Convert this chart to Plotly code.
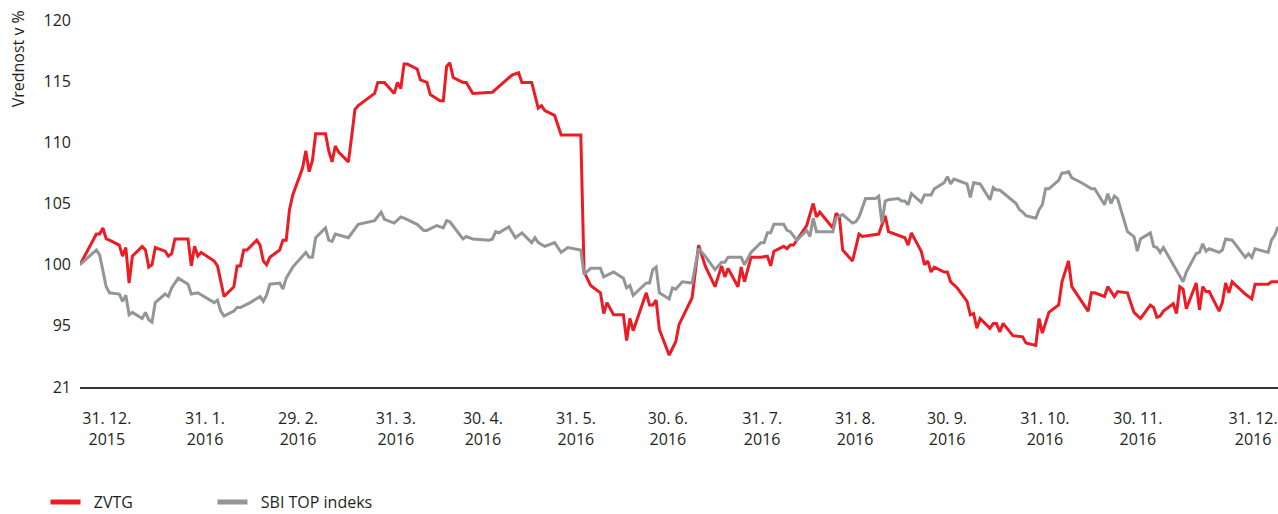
import pandas as pd
import plotly.graph_objects as go

START = pd.Timestamp("2015-12-31")

# ZVTG: days since 31. 12. 2015 and value (index, 31. 12. 2015 = 100)
zvtg_days = [0, 5, 6, 7, 8, 9, 12, 13, 14, 15, 16, 19, 20, 21, 22, 23, 26, 27, 28, 29,
             33, 34, 35, 36, 37, 41, 42, 44, 47, 48, 49, 50, 51, 54, 55, 56, 57, 58, 61, 62,
             63, 64, 65, 68, 69, 70, 71, 72, 75, 76, 77, 78, 79, 82, 83, 84, 85, 90, 91, 93,
             96, 97, 98, 99, 100, 103, 104, 106, 107, 110, 111, 112, 113, 114, 117, 118, 120, 126, 132, 134,
             135, 138, 140, 141, 142, 145, 147, 153, 154, 156, 159, 160, 161, 163, 166, 167, 168, 169, 173, 174,
             175, 176, 177, 180, 182, 183, 187, 189, 191, 194, 196, 197, 198, 201, 202, 203, 205, 208, 210, 211,
             212, 215, 216, 217, 218, 222, 224, 225, 226, 230, 231, 232, 233, 236, 238, 239, 244, 246, 247, 250,
             252, 253, 254, 257, 258, 259, 260, 261, 264, 265, 266, 268, 271, 272, 273, 274, 275, 278, 279, 280,
             281, 282, 285, 288, 289, 292, 293, 294, 296, 299, 300, 302, 303, 308, 309, 310, 313, 314, 316, 317,
             320, 322, 324, 327, 328, 329, 330, 331, 334, 335, 336, 337, 338, 341, 342, 343, 344, 345, 348, 349,
             350, 351, 352, 356, 358, 359, 363, 364, 366]
zvtg_values = [100.0, 102.5, 102.5, 103.0, 102.1, 102.0, 101.6, 100.7, 101.4, 98.5, 100.7, 101.5, 101.2, 99.8, 100.0, 101.4, 101.1, 100.7, 100.9, 102.1,
               102.1, 99.9, 101.5, 100.7, 101.0, 100.3, 99.9, 97.4, 98.2, 99.9, 99.9, 101.2, 101.2, 102.0, 101.6, 100.3, 100.0, 100.6, 101.2, 102.0,
               102.0, 104.5, 105.7, 107.9, 109.3, 107.6, 108.5, 110.7, 110.7, 109.3, 108.4, 109.7, 109.2, 108.4, 110.5, 112.7, 113.0, 114.0, 114.9, 114.9,
               114.0, 114.9, 114.4, 116.4, 116.4, 116.0, 115.1, 114.9, 113.9, 113.4, 113.4, 116.2, 116.5, 115.3, 114.9, 114.9, 114.0, 114.1, 115.5, 115.7,
               114.9, 114.9, 112.8, 113.0, 112.6, 112.2, 110.6, 110.6, 99.4, 98.3, 97.7, 96.0, 96.9, 95.9, 95.9, 93.8, 95.6, 94.6, 97.7, 96.7,
               96.7, 97.1, 94.7, 92.6, 93.7, 95.1, 97.3, 101.6, 99.9, 98.2, 99.9, 99.0, 99.7, 98.2, 99.8, 98.6, 100.6, 100.6, 100.7, 99.9,
               101.1, 101.5, 101.3, 101.6, 101.6, 103.2, 105.0, 103.9, 104.3, 103.0, 104.2, 103.9, 101.2, 100.3, 102.5, 102.3, 102.5, 104.0, 102.7, 102.4,
               102.2, 101.6, 102.6, 101.1, 100.0, 100.3, 99.4, 99.8, 99.4, 99.4, 98.6, 98.1, 97.0, 95.9, 96.0, 94.8, 95.6, 94.8, 95.2, 95.2,
               94.5, 95.2, 94.2, 94.1, 93.6, 93.4, 95.6, 94.4, 96.1, 96.7, 98.6, 100.3, 98.2, 96.2, 97.7, 97.7, 97.4, 98.2, 97.4, 97.8,
               97.7, 96.1, 95.6, 96.7, 96.5, 95.7, 95.8, 96.2, 96.8, 96.0, 98.2, 98.0, 96.4, 98.5, 96.3, 98.2, 97.8, 97.8, 96.2, 96.9,
               98.5, 97.7, 98.6, 97.6, 97.2, 98.4, 98.4, 98.6, 98.6]

# SBI TOP index
sbi_days = [0, 5, 6, 7, 8, 9, 12, 13, 14, 15, 16, 19, 20, 21, 22, 23, 26, 27, 28, 30,
            33, 34, 36, 41, 42, 43, 44, 47, 48, 49, 52, 55, 56, 57, 58, 61, 62, 63, 65, 69,
            70, 71, 72, 75, 76, 77, 78, 82, 85, 90, 92, 93, 96, 98, 99, 103, 105, 106, 109, 111,
            112, 113, 117, 118, 120, 125, 126, 127, 128, 131, 133, 135, 138, 139, 140, 142, 145, 146, 147, 149,
            153, 154, 156, 159, 160, 163, 166, 167, 168, 169, 173, 174, 175, 176, 177, 180, 181, 182, 184, 187,
            189, 191, 194, 195, 196, 197, 198, 202, 203, 205, 208, 209, 210, 211, 212, 215, 216, 217, 219, 222,
            223, 224, 225, 230, 231, 233, 236, 237, 238, 240, 243, 244, 245, 246, 247, 250, 251, 252, 253, 254,
            257, 258, 260, 261, 264, 265, 266, 267, 271, 272, 273, 275, 278, 279, 280, 281, 284, 286, 287, 288,
            289, 292, 293, 294, 295, 296, 299, 300, 301, 302, 303, 306, 309, 310, 313, 314, 315, 316, 317, 320,
            322, 323, 324, 327, 328, 329, 330, 331, 337, 338, 341, 342, 343, 344, 345, 348, 349, 350, 352, 356,
            357, 358, 359, 363, 364, 365, 366]
sbi_values = [100.0, 101.2, 100.8, 99.6, 98.2, 97.7, 97.6, 97.0, 97.5, 95.9, 96.1, 95.6, 96.1, 95.5, 95.3, 96.9, 97.6, 97.4, 98.1, 98.9,
              98.4, 97.6, 97.7, 96.9, 97.1, 96.2, 95.8, 96.2, 96.5, 96.5, 96.9, 97.4, 97.0, 97.5, 98.4, 98.5, 98.0, 98.9, 99.8, 101.0,
              100.6, 100.6, 102.2, 103.0, 102.0, 101.9, 102.5, 102.2, 103.3, 103.6, 104.3, 103.7, 103.4, 103.9, 103.8, 103.3, 102.8, 102.8, 103.2, 103.0,
              103.6, 103.5, 102.1, 102.3, 102.1, 102.0, 102.1, 102.7, 102.6, 103.1, 102.2, 102.6, 101.8, 102.2, 101.8, 101.5, 101.8, 101.4, 101.0, 101.4,
              101.2, 99.2, 99.7, 99.7, 99.0, 99.4, 98.9, 98.1, 98.3, 97.5, 98.5, 98.5, 99.6, 99.8, 97.7, 97.2, 98.1, 98.0, 98.6, 98.5,
              101.3, 100.7, 99.6, 99.9, 100.2, 100.2, 100.6, 100.6, 100.0, 101.0, 101.8, 101.8, 102.6, 102.6, 103.3, 103.3, 102.8, 102.7, 102.0, 102.8,
              102.3, 103.8, 102.7, 102.7, 103.8, 104.1, 103.4, 103.5, 103.9, 105.4, 105.4, 105.6, 103.4, 105.2, 105.3, 105.4, 105.2, 105.2, 104.9, 105.8,
              105.1, 105.7, 105.7, 106.2, 106.7, 107.2, 106.6, 107.0, 106.6, 105.5, 106.7, 106.6, 105.3, 106.3, 106.1, 106.1, 105.4, 105.0, 104.5, 104.3,
              104.0, 103.8, 104.5, 104.9, 106.2, 106.2, 106.9, 107.5, 107.5, 107.6, 107.1, 106.7, 106.2, 106.2, 104.9, 105.8, 105.0, 105.6, 105.4, 102.7,
              102.3, 101.1, 102.1, 102.6, 101.5, 101.4, 101.0, 101.4, 98.6, 99.4, 100.9, 101.0, 101.7, 101.1, 101.3, 101.0, 101.2, 102.1, 102.0, 100.6,
              100.9, 100.6, 101.3, 101.0, 102.0, 102.4, 103.1]

# x-axis tick labels (evenly spaced as in the source chart)
tick_labels = ["31. 12.<br>2015", "31. 1.<br>2016", "29. 2.<br>2016", "31. 3.<br>2016",
               "30. 4.<br>2016", "31. 5.<br>2016", "30. 6.<br>2016", "31. 7.<br>2016",
               "31. 8.<br>2016", "30. 9.<br>2016", "31. 10.<br>2016", "30. 11.<br>2016",
               "31. 12.<br>2016"]
tick_days = [8.2, 38.2, 66.6, 96.5, 123.1, 151.5, 179.6, 208.4, 236.8, 264.9, 294.8, 323.2, 358.4]

y_tickvals = [90, 95, 100, 105, 110, 115, 120]
y_ticktext = ["21", "95", "100", "105", "110", "115", "120"]

series_names = ["ZVTG", "SBI TOP indeks"]


def to_dates(days):
    return [(START + pd.Timedelta(days=d)).strftime("%Y-%m-%d %H:%M") for d in days]


RED = "#ED1C24"
GRAY = "#939598"
TXT = "#231F20"
FONT = "Open Sans"
NBSP = "\u00a0"

fig = go.Figure()
fig.add_trace(go.Scatter(x=to_dates(zvtg_days), y=zvtg_values, mode="lines", name=series_names[0],
                         line=dict(color=RED, width=3), showlegend=False))
fig.add_trace(go.Scatter(x=to_dates(sbi_days), y=sbi_values, mode="lines", name=series_names[1],
                         line=dict(color=GRAY, width=3), showlegend=False))
# legend entries (thicker swatches as in the source)
fig.add_trace(go.Scatter(x=[None], y=[None], mode="lines", name=NBSP * 2 + series_names[0],
                         line=dict(color=RED, width=5)))
fig.add_trace(go.Scatter(x=[None], y=[None], mode="lines", name=NBSP * 2 + series_names[1],
                         line=dict(color=GRAY, width=5)))

fig.update_layout(
    width=1278, height=514,
    margin=dict(l=80, r=0, t=20, b=127),
    paper_bgcolor="white", plot_bgcolor="white",
    font=dict(family=FONT, size=16, color=TXT),
    xaxis=dict(
        type="date",
        range=to_dates([0, 366]),
        tickvals=to_dates(tick_days), ticktext=tick_labels,
        showgrid=False, zeroline=False,
        showline=True, linecolor="#333333", linewidth=1.6,
        ticks="", ticklabelstandoff=16,
        tickfont=dict(family=FONT, size=16, color=TXT),
    ),
    yaxis=dict(
        range=[90, 120],
        tickvals=y_tickvals, ticktext=y_ticktext,
        showgrid=False, zeroline=False, showline=False,
        ticks="", ticklabelstandoff=8,
        tickfont=dict(family=FONT, size=16, color=TXT),
    ),
    legend=dict(
        orientation="h", x=-0.0288, xanchor="left",
        yref="container", y=12 / 514, yanchor="middle",
        entrywidth=122, entrywidthmode="pixels",
        font=dict(family=FONT, size=16, color=TXT),
        bgcolor="rgba(0,0,0,0)",
    ),
    annotations=[dict(
        text="Vrednost v %", textangle=-90, showarrow=False,
        xref="paper", yref="paper", x=-0.0518, y=1.033,
        xanchor="center", yanchor="top",
        font=dict(family=FONT, size=16, color=TXT),
    )],
)

fig.write_html(
    "out.html",
    config={"displayModeBar": False},
    post_script="document.body.style.margin='0';document.body.style.overflow='hidden';",
)
